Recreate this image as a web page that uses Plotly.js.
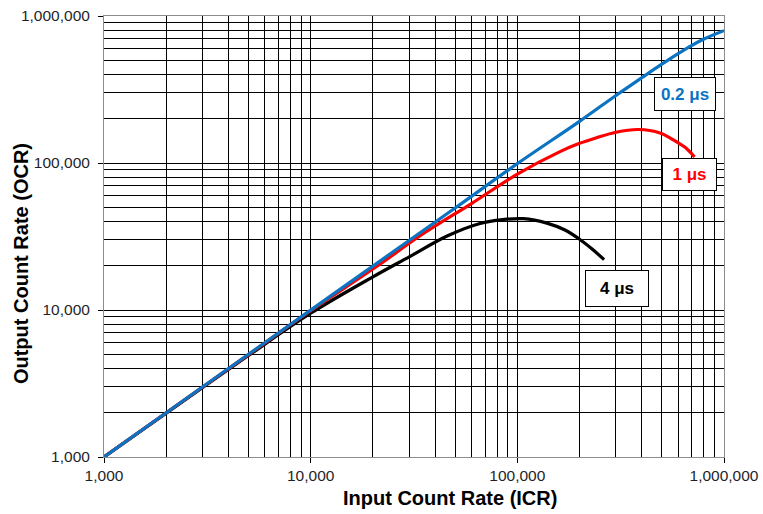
<!DOCTYPE html>
<html>
<head>
<meta charset="utf-8">
<script src="https://cdn.plot.ly/plotly-3.0.1.min.js"></script>
<style>html,body{margin:0;padding:0;background:#fff;}#chart{width:763px;height:514px;}</style>
</head>
<body>
<div id="chart"></div>
<script>
// ---- data ----
const seriesNames = ["0.2 μs", "1 μs", "4 μs"];

const icrBlue = [1000, 2000, 5000, 10000, 20000, 50000, 100000, 200000, 300000, 400000, 500000, 600000, 700000, 800000, 900000, 1000000];
const ocrBlue = [1000, 2000, 4995, 9980, 19900, 49400, 99000, 192000, 288000, 380000, 470000, 555000, 632000, 697000, 750000, 795000];

const icrRed = [1000, 2000, 5000, 10000, 20000, 35000, 60000, 100000, 160000, 200000, 240000, 300000, 385000, 490000, 590000, 660000, 720000];
const ocrRed = [1000, 1998, 4975, 9900, 19000, 33000, 53000, 84000, 119000, 136000, 148000, 162000, 169000, 160000, 139000, 125000, 110000];

const icrBlack = [1000, 2000, 5000, 10000, 20000, 30000, 46000, 66000, 85000, 107000, 139000, 170000, 200000, 230000, 263000];
const ocrBlack = [1000, 1990, 4900, 9500, 16800, 23000, 32000, 38800, 41200, 41800, 39000, 35000, 30300, 26000, 22000];

const majorTicks = [1000, 10000, 100000, 1000000];
const majorLabels = ["1,000", "10,000", "100,000", "1,000,000"];
const minorMultipliers = [2, 3, 4, 5, 6, 7, 8, 9];

const xTitle = "Input Count Rate (ICR)";
const yTitle = "Output Count Rate (OCR)";

// ---- build ----
const minorTicks = [];
[1000, 10000, 100000].forEach(d => minorMultipliers.forEach(m => minorTicks.push(d * m)));

const colors = ["#0b73c2", "#ff0000", "#000000"];
const xs = [icrBlue, icrRed, icrBlack];
const ys = [ocrBlue, ocrRed, ocrBlack];

// draw black first, then red, blue on top
const traces = [2, 1, 0].map(i => ({
  x: xs[i], y: ys[i], type: "scatter", mode: "lines", name: seriesNames[i],
  line: {color: colors[i], width: 3.2, shape: "spline", smoothing: 1},
  hoverinfo: "skip"
}));

const FONT = "Liberation Sans, Arial, sans-serif";

function axis(standoff) {
  return {
    type: "log",
    range: [3, 6],
    tickmode: "array",
    tickvals: majorTicks,
    ticktext: majorLabels,
    ticks: "outside",
    ticklen: 5,
    tickcolor: "#000",
    tickwidth: 1,
    ticklabelstandoff: standoff,
    tickfont: {family: FONT, size: 15.5, color: "#1f1f2a"},
    showgrid: true,
    gridcolor: "#000",
    gridwidth: 1,
    minor: {tickmode: "array", tickvals: minorTicks, showgrid: true, gridcolor: "#000", gridwidth: 1, ticks: ""},
    showline: true,
    mirror: true,
    linecolor: "#8c8c8c",
    linewidth: 1,
    zeroline: false,
    fixedrange: true
  };
}

const boxFont = (c) => ({family: FONT, size: 17, color: c, weight: "bold"});
const titleFont = {family: FONT, size: 20, color: "#000", weight: "bold"};

const annotations = [
  {xref: "paper", yref: "paper", x: 0.9375, y: 0.8234, text: "<b>" + seriesNames[0] + "</b>", showarrow: false,
   font: boxFont(colors[0]), bgcolor: "#fff", bordercolor: "#000", borderwidth: 1, borderpad: 0, width: 60, height: 32, xanchor: "center", yanchor: "middle"},
  {xref: "paper", yref: "paper", x: 0.9447, y: 0.6415, text: "<b>" + seriesNames[1] + "</b>", showarrow: false,
   font: boxFont(colors[1]), bgcolor: "#fff", bordercolor: "#000", borderwidth: 1, borderpad: 0, width: 53, height: 31, xanchor: "center", yanchor: "middle"},
  {xref: "paper", yref: "paper", x: 0.8278, y: 0.3818, text: "<b>" + seriesNames[2] + "</b>", showarrow: false,
   font: boxFont(colors[2]), bgcolor: "#fff", bordercolor: "#000", borderwidth: 1, borderpad: 0, width: 62, height: 35, xanchor: "center", yanchor: "middle"},
  // axis titles
  {xref: "paper", yref: "paper", x: 0.5585, y: -0.093, text: "<b>" + xTitle + "</b>", showarrow: false,
   font: titleFont, xanchor: "center", yanchor: "middle"},
  {xref: "paper", yref: "paper", x: -0.1335, y: 0.438, text: "<b>" + yTitle + "</b>", showarrow: false, textangle: -90,
   font: titleFont, xanchor: "center", yanchor: "middle"}
];

const layout = {
  width: 763, height: 514,
  margin: {l: 104, r: 39, t: 16, b: 57, pad: 0},
  paper_bgcolor: "#fff", plot_bgcolor: "#fff",
  showlegend: false,
  xaxis: axis(-1),
  yaxis: axis(5),
  annotations: annotations,
  font: {family: FONT}
};

Plotly.newPlot("chart", traces, layout, {displayModeBar: false, staticPlot: true});
</script>
</body>
</html>
